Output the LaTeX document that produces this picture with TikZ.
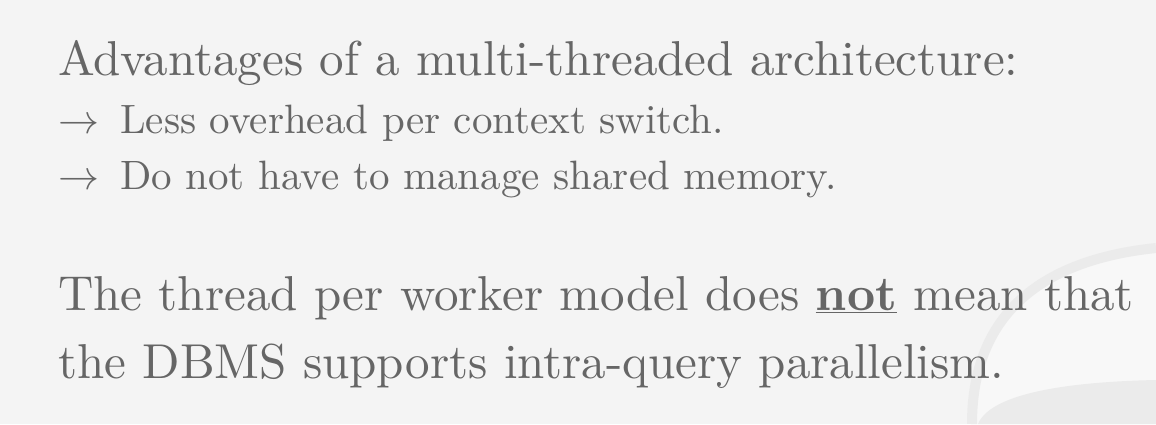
\RequirePackage{fix-cm}
\documentclass[tikz,border=0pt]{standalone}
\usepackage{fontspec}
\setmainfont{lmroman10-regular.otf}[BoldFont=lmroman10-bold.otf]
\usepackage{tikz}
\usetikzlibrary{positioning}
\definecolor{slidebg}{HTML}{F4F4F4}
\definecolor{slidelight}{HTML}{F8F8F8}
\definecolor{slidetxt}{HTML}{666666}
\definecolor{markring}{HTML}{EBEBEB}
\begin{document}
\begin{tikzpicture}[x=1pt,y=-1pt,
  every node/.style={inner sep=0pt,text=slidetxt},
  head/.style={anchor=base west,font=\fontsize{49}{60}\selectfont},
  para/.style={anchor=base west,font=\fontsize{49}{60}\selectfont},
  item/.style={anchor=base west,font=\fontsize{41}{50}\selectfont}]
\useasboundingbox (0,0) rectangle (1156,424);
\clip (0,0) rectangle (1156,424);
% slide background and the faint watermark
\fill[slidebg] (0,0) rectangle (1156,424);
\fill[slidelight] (975,424) .. controls (975,300) and (1060,262) .. (1156,252) -- (1156,424) -- cycle;
\draw[markring,line width=10pt] (972,424) .. controls (972,300) and (1060,258) .. (1156,248);
\fill[markring] (978,424) .. controls (990,395) and (1060,382) .. (1156,380) -- (1156,424) -- cycle;

\node (title) at (58,75) [head] {Advantages of a multi-threaded architecture:};
\node (a1) at (58,133) [item] {$\rightarrow$};
\node (t1) at (120,133) [item] {Less overhead per context switch.};
\node (a2) at (58,189) [item] {$\rightarrow$};
\node (t2) at (120,189) [item] {Do not have to manage shared memory.};

\node (p1) at (58,310) [para] {The thread per worker model does \underline{\textbf{not}} mean that};
\node (p2) at (58,378) [para] {the DBMS supports intra-query parallelism.};
\end{tikzpicture}
\end{document}
